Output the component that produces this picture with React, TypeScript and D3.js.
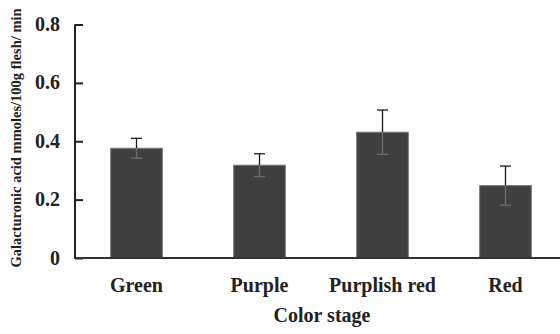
import * as d3 from 'd3';
import React, { useEffect, useRef } from 'react';

const categories = ['Green', 'Purple', 'Purplish red', 'Red'];
const values = [0.376, 0.318, 0.431, 0.248];
const errors = [0.034, 0.039, 0.076, 0.067];
const yTicks = [0, 0.2, 0.4, 0.6, 0.8];

const W = 560;
const H = 334;
const FONT = '"Liberation Serif", "Times New Roman", serif';

const App = () => {
  const ref = useRef<SVGSVGElement>(null);

  useEffect(() => {
    const svg = d3.select(ref.current);
    svg.selectAll('*').remove();

    const x = d3.scaleBand().domain(categories).range([75, 567]).paddingInner(0.58).paddingOuter(0.29);
    const y = d3.scaleLinear().domain([0, 0.8]).range([258, 24.5]);

    const g = svg.append('g');

    // bars
    g.selectAll('rect.bar')
      .data(values)
      .enter()
      .append('rect')
      .attr('class', 'bar')
      .attr('x', (d, i) => x(categories[i])!)
      .attr('y', d => y(d))
      .attr('width', x.bandwidth())
      .attr('height', d => y(0) - y(d))
      .attr('fill', '#404040')
      .attr('stroke', '#7a7a7a')
      .attr('stroke-width', 1);

    // error bars: upper part dark, lower part (over the bar) grey
    values.forEach((v, i) => {
      const cx = x(categories[i])! + x.bandwidth() / 2;
      const top = y(v + errors[i]);
      const bot = y(v - errors[i]);
      g.append('line').attr('x1', cx).attr('x2', cx).attr('y1', top).attr('y2', y(v))
        .attr('stroke', '#1a1a1a').attr('stroke-width', 1.3);
      g.append('line').attr('x1', cx).attr('x2', cx).attr('y1', y(v)).attr('y2', bot)
        .attr('stroke', '#6e6e6e').attr('stroke-width', 1.3);
      g.append('line').attr('x1', cx - 5.5).attr('x2', cx + 5.5).attr('y1', top).attr('y2', top)
        .attr('stroke', '#1a1a1a').attr('stroke-width', 1.3);
      g.append('line').attr('x1', cx - 5.5).attr('x2', cx + 5.5).attr('y1', bot).attr('y2', bot)
        .attr('stroke', '#6e6e6e').attr('stroke-width', 1.3);
    });

    // axes
    const yAxis = d3.axisRight(y).tickValues(yTicks).tickSize(8).tickFormat(() => '');
    const ya = g.append('g').attr('transform', 'translate(75,0)').call(yAxis);
    ya.select('.domain').remove();
    ya.selectAll('line').attr('stroke', '#222').attr('stroke-width', 2);
    g.append('line').attr('x1', 75).attr('x2', 75).attr('y1', y(0.8)).attr('y2', y(0) + 1)
      .attr('stroke', '#222').attr('stroke-width', 2);
    g.append('line').attr('x1', 74).attr('x2', W).attr('y1', y(0)).attr('y2', y(0))
      .attr('stroke', '#333').attr('stroke-width', 2);

    const label = (sel: any) =>
      sel.attr('font-family', FONT).attr('font-weight', 'bold').attr('font-size', 20).attr('fill', '#222');

    g.selectAll('text.ytick')
      .data(yTicks)
      .enter()
      .append('text')
      .attr('class', 'ytick')
      .attr('x', 60)
      .attr('y', d => y(d))
      .attr('dy', '0.33em')
      .attr('text-anchor', 'end')
      .call(label)
      .text(d => (d === 0 ? '0' : d.toFixed(1)));

    g.selectAll('text.xtick')
      .data(categories)
      .enter()
      .append('text')
      .attr('class', 'xtick')
      .attr('x', d => x(d)! + x.bandwidth() / 2)
      .attr('y', 292)
      .attr('text-anchor', 'middle')
      .call(label)
      .text(d => d);

    g.append('text')
      .attr('x', 322)
      .attr('y', 322)
      .attr('text-anchor', 'middle')
      .call(label)
      .text('Color stage');

    g.append('text')
      .attr('transform', 'translate(21,138) rotate(-90)')
      .attr('text-anchor', 'middle')
      .attr('font-family', FONT)
      .attr('font-weight', 'bold')
      .attr('font-size', 14.5)
      .attr('fill', '#222')
      .text('Galacturonic acid mmoles/100g flesh/ min');
  });

  return (
    <svg ref={ref} width={W} height={H} style={{ position: 'absolute', left: 0, top: 0, background: '#fff' }} />
  );
};

export default App;
